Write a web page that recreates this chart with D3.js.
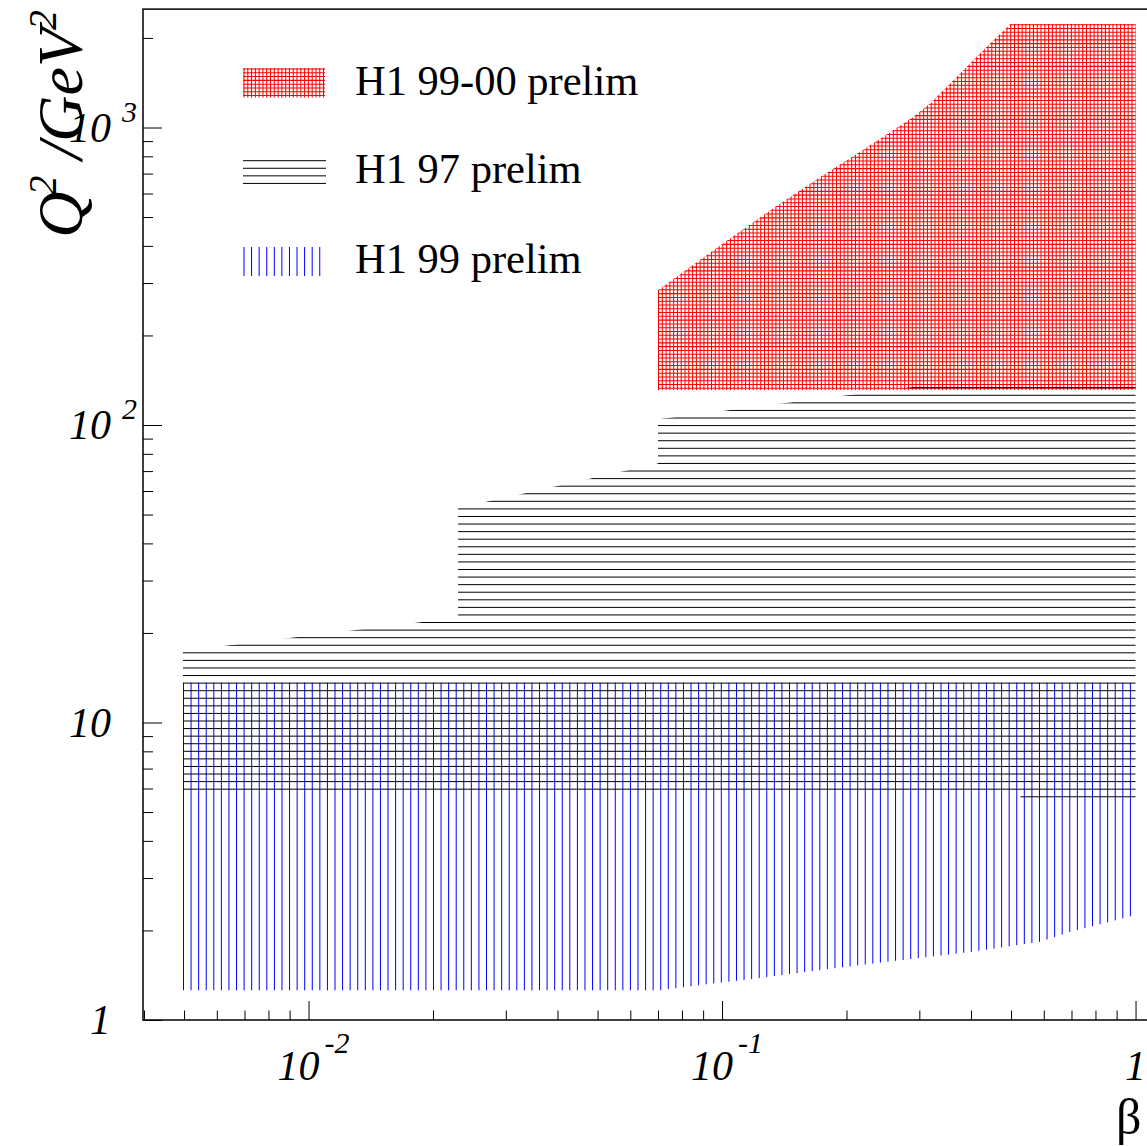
<!DOCTYPE html>
<html><head><meta charset="utf-8">
<script src="https://cdn.jsdelivr.net/npm/d3@7"></script>
<style>body{margin:0;background:#fff;overflow:hidden} svg{display:block}</style>
</head><body>
<script>
// ---- data ----
const legendLabels = ["H1 99-00 prelim", "H1 97 prelim", "H1 99 prelim"];
const xMajorTicks = [0.01, 0.1, 1];
const xTickBase = ["10", "10", "1"];
const xTickExp  = ["-2", "-1", ""];
const yMajorTicks = [1, 10, 100, 1000];
const yTickBase = ["1", "10", "10", "10"];
const yTickExp  = ["", "", "2", "3"];

// H1 99-00 prelim region (beta, Q2)
const h9900Beta = [0.07, 0.07, 0.1007, 0.133, 0.176, 0.2325, 0.2905, 0.319, 0.370, 0.421, 0.498, 1.0, 1.0];
const h9900Q2   = [131, 284, 408, 535, 692, 885, 1087, 1206, 1482, 1776, 2228, 2228, 131];
// H1 97 prelim region
const h97Beta = [0.00497, 0.00497, 0.023, 0.023, 0.07, 0.07, 0.313, 1.0, 1.0, 0.527, 0.527];
const h97Q2   = [5.75, 17.4, 22.5, 52.6, 74.2, 104.6, 136, 136, 5.5, 5.5, 5.75];
// H1 99 prelim region
const h99Beta = [0.00497, 0.00497, 1.0, 1.0, 0.823, 0.696, 0.589, 0.4024, 0.2634, 0.1727, 0.1182, 0.0918, 0.0708];
const h99Q2   = [1.26, 13.6, 13.6, 2.254, 2.097, 1.981, 1.834, 1.696, 1.582, 1.473, 1.373, 1.318, 1.26];

// ---- layout ----
const W = 1147, H = 1146;
const svg = d3.select("body").append("svg").attr("width", W).attr("height", H);
const defs = svg.append("defs");
const xMin = 0.003978, xMax = 1.25, yMin = 1, yMax = 2500;
const x = d3.scaleLog().domain([xMin, xMax]).range([143, 143 + 413.5 * Math.log10(xMax / xMin)]);
const y = d3.scaleLog().domain([yMin, yMax]).range([1020, 1020 - 297.5 * Math.log10(yMax / yMin)]);
const FONT = "'Liberation Serif','Times New Roman',serif";

function hatchPolygon(id, pts, opts) {
  defs.append("clipPath").attr("id", id).append("path").attr("d", "M" + pts.map(p => p.join(",")).join("L") + "Z");
  const xs = pts.map(p => p[0]), ys = pts.map(p => p[1]);
  const x0 = d3.min(xs), x1 = d3.max(xs), y0 = d3.min(ys), y1 = d3.max(ys);
  const g = svg.append("g").attr("clip-path", `url(#${id})`)
    .attr("stroke", opts.color).attr("stroke-width", opts.width || 1).attr("shape-rendering", "geometricPrecision");
  if (opts.h) {
    const [sp, ph] = opts.h;
    let s = ph - Math.ceil((ph - y0) / sp) * sp;
    for (let v = s; v <= y1 + 1; v += sp) g.append("line").attr("x1", x0 - 2).attr("x2", x1 + 2).attr("y1", v).attr("y2", v);
  }
  if (opts.v) {
    const [sp, ph] = opts.v;
    let s = ph - Math.ceil((ph - x0) / sp) * sp;
    for (let v = s; v <= x1 + 1; v += sp) g.append("line").attr("y1", y0 - 2).attr("y2", y1 + 2).attr("x1", v).attr("x2", v);
  }
}
const SP = 7.575;
const toPts = (bs, qs) => bs.map((b, i) => [x(b), y(qs[i])]);

// regions
hatchPolygon("c9900", toPts(h9900Beta, h9900Q2), {color: "#ff0000", h: [SP / 2, 388.3], v: [SP / 2, 658.5], width: 1.05});
hatchPolygon("c99", toPts(h99Beta, h99Q2), {color: "#0000ff", v: [SP, 183.5]});
hatchPolygon("c97", toPts(h97Beta, h97Q2), {color: "#000000", h: [SP, 387.7]});

// ---- frame & axes ----
const x0 = x.range()[0], x1 = x.range()[1], yb = y.range()[0], yt = y.range()[1];
svg.append("rect").attr("x", x0).attr("y", yt).attr("width", x1 - x0).attr("height", yb - yt)
  .attr("fill", "none").attr("stroke", "#000").attr("stroke-width", 1.5);

const xMinor = [];
for (const d of [0.001, 0.01, 0.1]) for (let k = 2; k <= 9; k++) { const v = k * d; if (v > xMin && v < xMax) xMinor.push(v); }
const yMinor = [];
for (const d of [1, 10, 100, 1000]) for (let k = 2; k <= 9; k++) { const v = k * d; if (v < yMax) yMinor.push(v); }

function styleAxis(g) { g.select(".domain").remove(); g.selectAll("line").attr("stroke", "#000").attr("stroke-width", 1); }
svg.append("g").attr("transform", `translate(0,${yb})`).call(d3.axisTop(x).tickValues(xMajorTicks).tickSize(19).tickFormat("")).call(styleAxis);
svg.append("g").attr("transform", `translate(0,${yb})`).call(d3.axisTop(x).tickValues(xMinor).tickSize(9.5).tickFormat("")).call(styleAxis);
svg.append("g").attr("transform", `translate(${x0},0)`).call(d3.axisRight(y).tickValues(yMajorTicks).tickSize(19).tickFormat("")).call(styleAxis);
svg.append("g").attr("transform", `translate(${x0},0)`).call(d3.axisRight(y).tickValues(yMinor).tickSize(10).tickFormat("")).call(styleAxis);

// tick labels
const TL = 42, TS = 30;
yMajorTicks.forEach((v, i) => {
  svg.append("text").attr("x", 111).attr("y", y(v) + 14).attr("text-anchor", "end")
    .attr("font-family", FONT).attr("font-style", "italic").attr("font-size", TL).text(yTickBase[i]);
  if (yTickExp[i]) svg.append("text").attr("x", 122).attr("y", y(v) - 6)
    .attr("font-family", FONT).attr("font-style", "italic").attr("font-size", TS).text(yTickExp[i]);
});
xMajorTicks.forEach((v, i) => {
  if (xTickExp[i]) {
    svg.append("text").attr("x", x(v) + 11).attr("y", 1080).attr("text-anchor", "end")
      .attr("font-family", FONT).attr("font-style", "italic").attr("font-size", TL).text(xTickBase[i]);
    svg.append("text").attr("x", x(v) + 16).attr("y", 1053)
      .attr("font-family", FONT).attr("font-style", "italic").attr("font-size", TS).text(xTickExp[i]);
  } else {
    svg.append("text").attr("x", x(v)).attr("y", 1080).attr("text-anchor", "middle")
      .attr("font-family", FONT).attr("font-style", "italic").attr("font-size", TL).text(xTickBase[i]);
  }
});

// axis titles
svg.append("text").attr("x", 1116).attr("y", 1134).attr("font-family", FONT).attr("font-size", 50).text("β");
const yt1 = svg.append("text").attr("transform", "translate(82,10) rotate(-90)").attr("text-anchor", "end")
  .attr("font-family", FONT).attr("font-style", "italic").attr("font-size", 64);
yt1.append("tspan").text("Q");
yt1.append("tspan").attr("font-size", 40).attr("dy", -26).attr("dx", -4).text("2");
yt1.append("tspan").attr("dy", 26).text(" /GeV");
yt1.append("tspan").attr("font-size", 40).attr("dy", -26).attr("dx", -2).text("2");

// ---- legend ----
hatchPolygon("l0", [[243, 68], [325, 68], [325, 97.5], [243, 97.5]], {color: "#ff0000", h: [SP / 2, 69], v: [SP / 2, 244], width: 1.05});
hatchPolygon("l1", [[243, 157], [326, 157], [326, 187], [243, 187]], {color: "#000000", h: [SP, 160.7]});
hatchPolygon("l2", [[243, 247], [322, 247], [322, 276], [243, 276]], {color: "#0000ff", v: [SP, 244]});
[95, 183, 273].forEach((b, i) => {
  svg.append("text").attr("x", 355).attr("y", b).attr("font-family", FONT).attr("font-size", 42.5).text(legendLabels[i]);
});
</script>
</body></html>
